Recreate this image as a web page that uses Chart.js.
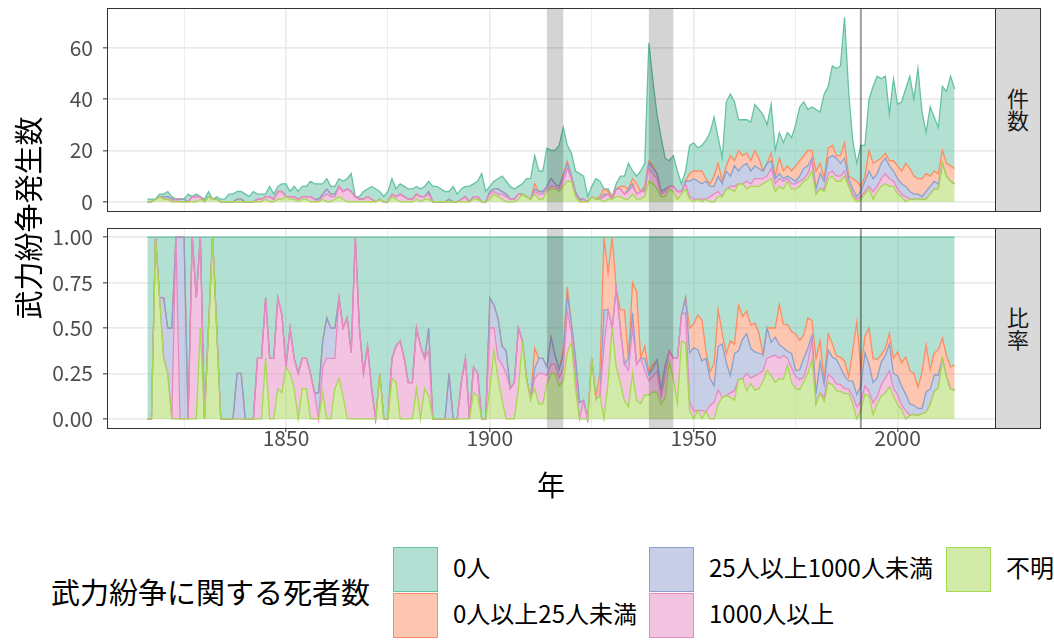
<!DOCTYPE html>
<html>
<head>
<meta charset="utf-8">
<script src="https://cdn.jsdelivr.net/npm/chart.js@4.4.1/dist/chart.umd.min.js"></script>
<style>
  body { margin: 0; background: #fff; width: 1054px; height: 641px; position: relative; overflow: hidden;
         font-family: "Noto Sans CJK JP", "Noto Sans", sans-serif; color: #000; }
  .abs { position: absolute; }
  .panel { position: absolute; border: 1px solid #333; box-sizing: border-box; pointer-events: none; }
  .strip { position: absolute; background: #D9D9D9; border: 1px solid #333; box-sizing: border-box;
           display: flex; align-items: center; justify-content: center; }
  .strip span { writing-mode: vertical-rl; text-orientation: upright; font-size: 22px; color: #1A1A1A; }
  .key { position: absolute; width: 45px; height: 45px; box-sizing: border-box; border: 1.5px solid; }
  .lab { position: absolute; font-size: 24px; line-height: 30px; white-space: nowrap; }
</style>
</head>
<body>
<canvas id="countChart" class="abs" style="left:0;top:0" width="995" height="220"></canvas>
<canvas id="shareChart" class="abs" style="left:0;top:212px" width="995" height="300"></canvas>

<div class="panel" style="left:107px;top:8px;width:889px;height:204px"></div>
<div class="panel" style="left:107px;top:228px;width:889px;height:201px"></div>
<div class="strip" style="left:995px;top:8px;width:46px;height:204px"><span>件数</span></div>
<div class="strip" style="left:995px;top:228px;width:46px;height:201px"><span>比率</span></div>

<div class="abs" style="left:-78px;top:200px;width:210px;height:36px;line-height:36px;text-align:center;font-size:29px;transform:rotate(-90deg)">武力紛争発生数</div>
<div class="abs" style="left:501px;top:466px;width:100px;line-height:36px;text-align:center;font-size:28px">年</div>

<div class="abs" style="left:51px;top:573px;line-height:36px;font-size:29px;white-space:nowrap">武力紛争に関する死者数</div>
<div id="legend"></div>

<script>
// categories: one row per year, 1816-2014
var firstYear = 1816, lastYear = 2014;
var years = [];
for (var y = firstYear; y <= lastYear; y++) years.push(y);

// number of conflicts per year, by death toll
var unknown = [0,0,1,2,
  1,1,0,0,0,0,0,0,0,1, 0,2,1,1,0,0,0,0,0,0, 0,0,0,0,0,1,0,0,1,1, 2,1,1,0,1,1,0,0,0,1,
  0,0,1,2,1,0,0,0,0,0, 0,0,0,1,0,0,2,1,0,0, 0,0,1,0,1,1,0,0,0,0, 0,0,0,0,0,0,1,1,0,0,
  1,3,2,1,0,0,0,1,3,2, 1,3,1,1,4,5,5,4,6,8, 8,2,0,0,0,2,1,1,0,1, 1,2,2,1,1,3,1,1,2,8,
  7,5,2,2,5,4,1,3,5,1, 0,1,0,1,0,0,2,2,5,5, 4,7,7,5,6,6,6,7,8,9, 4,6,5,8,5,5,6,8,9,12,
  3,5,4,9,10,8,8,10,6,2, 0,1,3,5,1,4,6,7,6,6, 3,2,0,1,1,1,1,1,3,5, 5,15,10,8,7];
var over1000 = [0,0,0,0,
  0,0,0,1,0,0,0,2,2,1, 0,0,0,0,0,0,0,0,0,0, 0,0,0,1,1,1,2,1,3,3, 0,1,1,1,1,1,2,1,0,1,
  3,2,1,4,3,5,4,2,1,1, 2,1,0,0,0,0,1,1,3,2, 1,1,2,2,1,2,0,0,0,0, 0,0,0,1,2,0,1,1,0,0,
  2,1,1,2,2,1,1,2,0,0, 0,1,2,2,1,1,1,1,2,5, 1,1,0,1,0,0,0,0,2,2, 0,3,3,2,3,3,2,3,2,5,
  4,4,1,2,1,2,3,1,2,1, 1,0,1,0,2,3,2,0,0,1, 2,0,0,3,1,3,3,2,2,4, 3,3,3,1,2,2,2,1,2,4,
  0,0,1,2,2,2,2,2,1,1, 1,1,1,1,3,2,3,4,3,2, 2,1,2,0,0,0,0,0,0,0, 0,0,0,0,0];
var from25to1000 = [0,0,0,0,
  1,1,1,0,1,1,0,0,0,0, 0,0,0,0,0,0,0,0,1,1, 0,0,0,0,0,0,0,0,0,0, 0,0,0,0,0,0,0,0,1,1,
  2,1,1,0,0,0,0,0,0,0, 0,0,0,0,0,0,0,0,0,0, 0,0,0,0,0,1,0,0,0,0, 1,0,0,0,0,0,0,0,0,0,
  1,1,2,1,1,0,0,0,0,0, 0,1,1,1,1,3,1,1,2,2, 1,1,1,0,0,0,0,0,1,0, 0,0,0,0,1,1,0,0,1,2,
  2,2,1,1,0,0,0,0,1,6, 8,7,6,7,4,3,6,5,7,4, 8,5,7,7,5,5,4,3,5,3, 2,2,1,1,2,1,2,4,3,1,
  2,6,3,6,6,7,5,5,2,2, 1,2,4,6,5,5,6,6,5,4, 4,4,4,3,2,2,1,3,3,3, 2,0,0,0,0];
var under25 = [0,0,0,0,
  0,0,0,0,0,0,0,0,0,0, 0,0,0,0,0,0,0,0,0,0, 0,0,0,0,0,0,0,0,0,0, 0,0,0,0,0,0,0,0,0,0,
  0,0,0,0,0,0,0,0,0,0, 0,0,0,0,0,0,0,0,0,0, 0,0,0,0,0,0,0,0,0,0, 0,0,0,0,0,0,0,0,0,0,
  0,0,0,0,0,0,0,0,0,0, 0,2,0,0,0,0,0,0,1,1, 0,0,0,0,0,0,0,1,2,1, 1,0,1,3,0,2,4,0,1,1,
  1,0,0,0,0,0,0,0,0,3, 3,4,5,1,1,4,5,1,2,8, 2,8,4,4,4,6,4,0,0,3, 1,6,3,4,3,6,6,5,6,3,
  7,4,1,4,4,1,3,6,1,4, 6,2,2,8,6,5,2,2,2,4, 5,5,9,9,7,6,7,7,4,4, 4,5,5,6,6];
var noDeaths = [1,1,0,1,
  1,2,1,0,0,0,3,0,1,0, 1,2,0,1,1,1,3,3,3,3, 3,2,4,2,2,1,4,2,2,3, 5,2,4,3,4,4,6,6,6,4,
  4,3,3,3,4,4,7,0,1,3, 3,5,5,3,2,4,6,3,4,4, 4,4,3,3,4,4,6,6,5,4, 3,6,3,4,4,6,5,6,11,4,
  2,3,4,6,5,5,4,3,4,7, 8,11,8,8,15,11,13,16,18,6, 9,8,10,9,2,4,8,6,0,1, 0,2,4,4,10,3,3,8,9,46,
  33,23,21,12,10,12,8,3,4,11, 11,9,10,15,20,23,10,9,25,24, 23,12,14,13,15,18,19,22,15,19, 10,10,11,13,13,16,21,21,16,17,
  24,20,33,24,31,34,35,49,33,15, 7,16,12,20,30,33,31,30,18,32, 24,27,29,36,30,43,26,16,27,21, 18,25,28,35,31];

// axis ticks
var xTicks = [1825, 1850, 1875, 1900, 1925, 1950, 1975, 2000];
var countTicks = [0, 10, 20, 30, 40, 50, 60, 70];
var shareTicks = [0, 0.125, 0.25, 0.375, 0.5, 0.625, 0.75, 0.875, 1];

// shaded periods (world wars) and the marker year
var warPeriods = [[1914, 1918], [1939, 1945]];
var markerYear = 1991;

var FONT = '"Noto Sans CJK JP", "Noto Sans", sans-serif';

// stacked from bottom (不明) to top (0人), as ggplot stacks them
var series = [
  { label: '不明', values: unknown, line: '#A6D854', fill: 'rgba(166,216,84,0.5)' },
  { label: '1000人以上', values: over1000, line: '#E78AC3', fill: 'rgba(231,138,195,0.5)' },
  { label: '25人以上1000人未満', values: from25to1000, line: '#8DA0CB', fill: 'rgba(141,160,203,0.5)' },
  { label: '0人以上25人未満', values: under25, line: '#FC8D62', fill: 'rgba(252,141,98,0.5)' },
  { label: '0人', values: noDeaths, line: '#66C2A5', fill: 'rgba(102,194,165,0.5)' }
];

var totals = years.map(function (yr, i) {
  return series.reduce(function (s, d) { return s + d.values[i]; }, 0);
});

var warBands = {
  id: 'warBands',
  afterDatasetsDraw: function (chart) {
    var ctx = chart.ctx, a = chart.chartArea, x = chart.scales.x;
    ctx.save();
    ctx.beginPath();
    ctx.rect(a.left, a.top, a.right - a.left, a.bottom - a.top);
    ctx.clip();
    ctx.fillStyle = 'rgba(0,0,0,0.17)';
    warPeriods.forEach(function (p) {
      var x0 = x.getPixelForValue(p[0]), x1 = x.getPixelForValue(p[1]);
      ctx.fillRect(x0, a.top, x1 - x0, a.bottom - a.top);
    });
    var xm = x.getPixelForValue(markerYear);
    ctx.strokeStyle = 'rgba(0,0,0,0.38)';
    ctx.lineWidth = 2;
    ctx.beginPath();
    ctx.moveTo(xm, a.top);
    ctx.lineTo(xm, a.bottom);
    ctx.stroke();
    ctx.restore();
  }
};

function gridOpts(isMajor, showTicks) {
  return {
    color: '#EBEBEB',
    lineWidth: function (c) { return isMajor(c.tick.value) ? 1.7 : 0.9; },
    drawTicks: showTicks,
    tickLength: 4,
    tickWidth: 1,
    tickColor: function (c) { return isMajor(c.tick.value) ? '#333333' : 'rgba(0,0,0,0)'; }
  };
}

function makeChart(id, asShare) {
  var isMajorX = function (v) { return v % 50 === 0; };
  var isMajorY = asShare
    ? function (v) { return Math.abs(v * 4 - Math.round(v * 4)) < 1e-9; }
    : function (v) { return v % 20 === 0; };

  var datasets = series.map(function (s, i) {
    return {
      label: s.label,
      data: years.map(function (yr, j) {
        return { x: yr, y: asShare ? s.values[j] / totals[j] : s.values[j] };
      }),
      borderColor: s.line,
      backgroundColor: s.fill,
      borderWidth: 1.3,
      pointRadius: 0,
      tension: 0,
      fill: i === 0 ? 'origin' : '-1'
    };
  });

  return new Chart(document.getElementById(id), {
    type: 'line',
    data: { datasets: datasets },
    plugins: [warBands],
    options: {
      responsive: false,
      animation: false,
      devicePixelRatio: 1,
      layout: { padding: { top: asShare ? 16 : 8, left: 0, right: 0, bottom: 0 } },
      plugins: { legend: { display: false }, tooltip: { enabled: false } },
      scales: {
        x: {
          type: 'linear',
          min: 1806.1,
          max: 2023.9,
          afterBuildTicks: function (s) { s.ticks = xTicks.map(function (v) { return { value: v }; }); },
          afterFit: function (s) {
            s.height = asShare ? 84 : 9;
            s.paddingLeft = 0; s.paddingRight = 0;
          },
          border: { display: false },
          grid: gridOpts(isMajorX, asShare),
          ticks: {
            display: asShare,
            autoSkip: false,
            maxRotation: 0,
            padding: -7,
            color: '#4D4D4D',
            font: { family: FONT, size: 21 },
            callback: function (v) { return isMajorX(v) ? String(v) : ''; }
          }
        },
        y: {
          type: 'linear',
          stacked: true,
          min: asShare ? -0.05 : -3.6,
          max: asShare ? 1.05 : 75.6,
          afterBuildTicks: function (s) {
            s.ticks = (asShare ? shareTicks : countTicks).map(function (v) { return { value: v }; });
          },
          afterFit: function (s) {
            s.width = 107;
            s.paddingTop = 0; s.paddingBottom = 0;
          },
          border: { display: false },
          grid: gridOpts(isMajorY, true),
          ticks: {
            padding: 10,
            color: '#4D4D4D',
            font: { family: FONT, size: 21 },
            callback: function (v) {
              if (!isMajorY(v)) return '';
              return asShare ? v.toFixed(2) : String(v);
            }
          }
        }
      }
    }
  });
}

makeChart('countChart', false);
makeChart('shareChart', true);

// legend, filled column by column like the reference
var legendSlots = [
  { s: 4, left: 393, top: 547 },
  { s: 3, left: 393, top: 593 },
  { s: 2, left: 649, top: 547 },
  { s: 1, left: 649, top: 593 },
  { s: 0, left: 946, top: 547 }
];
var legend = document.getElementById('legend');
legendSlots.forEach(function (slot) {
  var s = series[slot.s];
  var key = document.createElement('div');
  key.className = 'key';
  key.style.left = slot.left + 'px';
  key.style.top = slot.top + 'px';
  key.style.background = s.fill;
  key.style.borderColor = s.line;
  legend.appendChild(key);
  var lab = document.createElement('div');
  lab.className = 'lab';
  lab.style.left = (slot.left + 60) + 'px';
  lab.style.top = (slot.top + 5) + 'px';
  lab.textContent = s.label;
  legend.appendChild(lab);
});
</script>
</body>
</html>
